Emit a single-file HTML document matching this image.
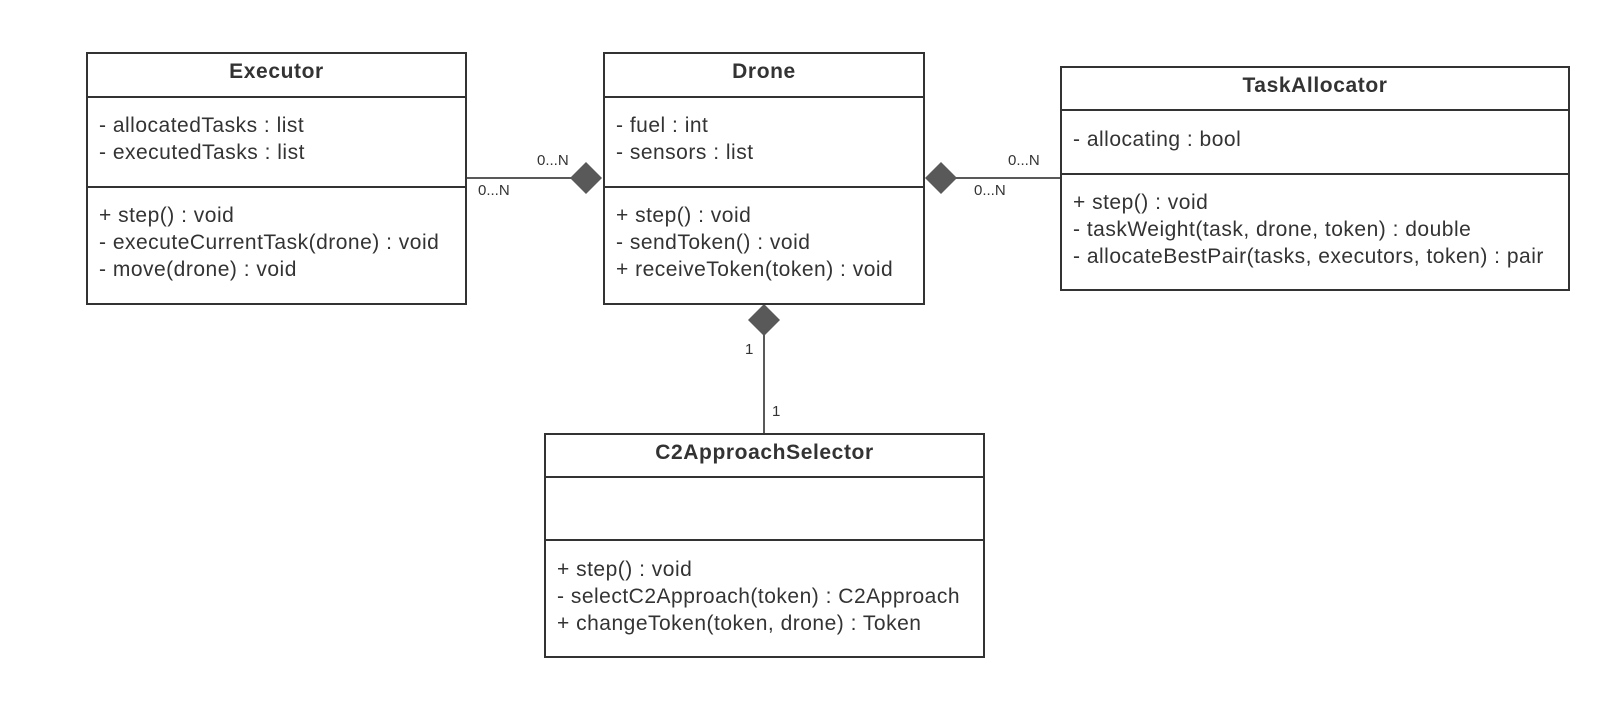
<!DOCTYPE html>
<html><head><meta charset="utf-8"><style>
body{margin:0;width:1620px;height:723px;background:#fff;position:relative;overflow:hidden;font-family:"Liberation Sans",Arial,sans-serif;color:#333}
.b{position:absolute;border:2px solid #333;box-sizing:border-box;background:#fff}
.h{position:absolute;left:0;right:0;text-align:center;font-weight:bold;font-size:21px;letter-spacing:0.6px}
.s{position:absolute;left:0;right:0;border-top:2px solid #333}
.t{position:absolute;left:11px;font-size:21px;line-height:27px;white-space:nowrap;letter-spacing:0.5px}
.l{position:absolute;font-size:15px;white-space:nowrap}
</style></head><body>
<svg width="1620" height="723" style="position:absolute;left:0;top:0">
<line x1="466" y1="178" x2="580" y2="178" stroke="#595959" stroke-width="2"/>
<polygon points="570,178 586,162 602,178 586,194" fill="#595959"/>
<line x1="930" y1="178" x2="1061" y2="178" stroke="#595959" stroke-width="2"/>
<polygon points="925,178 941,162 957,178 941,194" fill="#595959"/>
<line x1="764" y1="320" x2="764" y2="434" stroke="#595959" stroke-width="2"/>
<polygon points="764,304 780,320 764,336 748,320" fill="#595959"/>
</svg>

<div class="b" style="left:86px;top:52px;width:381px;height:253px">
<div class="h" style="top:6px">Executor</div>
<div class="s" style="top:42px"></div>
<div class="s" style="top:132px"></div>
<div class="t" style="top:58px">- allocatedTasks : list<br>- executedTasks : list</div>
<div class="t" style="top:148px">+ step() : void<br>- executeCurrentTask(drone) : void<br>- move(drone) : void</div>
</div>

<div class="b" style="left:603px;top:52px;width:322px;height:253px">
<div class="h" style="top:6px">Drone</div>
<div class="s" style="top:42px"></div>
<div class="s" style="top:132px"></div>
<div class="t" style="top:58px">- fuel : int<br>- sensors : list</div>
<div class="t" style="top:148px">+ step() : void<br>- sendToken() : void<br>+ receiveToken(token) : void</div>
</div>

<div class="b" style="left:1060px;top:66px;width:510px;height:225px">
<div class="h" style="top:6px">TaskAllocator</div>
<div class="s" style="top:41px"></div>
<div class="s" style="top:105px"></div>
<div class="t" style="top:58px">- allocating : bool</div>
<div class="t" style="top:121px">+ step() : void<br>- taskWeight(task, drone, token) : double<br>- allocateBestPair(tasks, executors, token) : pair</div>
</div>

<div class="b" style="left:544px;top:433px;width:441px;height:225px">
<div class="h" style="top:6px">C2ApproachSelector</div>
<div class="s" style="top:41px"></div>
<div class="s" style="top:104px"></div>
<div class="t" style="top:121px">+ step() : void<br>- selectC2Approach(token) : C2Approach<br>+ changeToken(token, drone) : Token</div>
</div>

<div class="l" style="left:537px;top:152px">0...N</div>
<div class="l" style="left:478px;top:182px">0...N</div>
<div class="l" style="left:1008px;top:152px">0...N</div>
<div class="l" style="left:974px;top:182px">0...N</div>
<div class="l" style="left:745px;top:341px">1</div>
<div class="l" style="left:772px;top:403px">1</div>
</body></html>
